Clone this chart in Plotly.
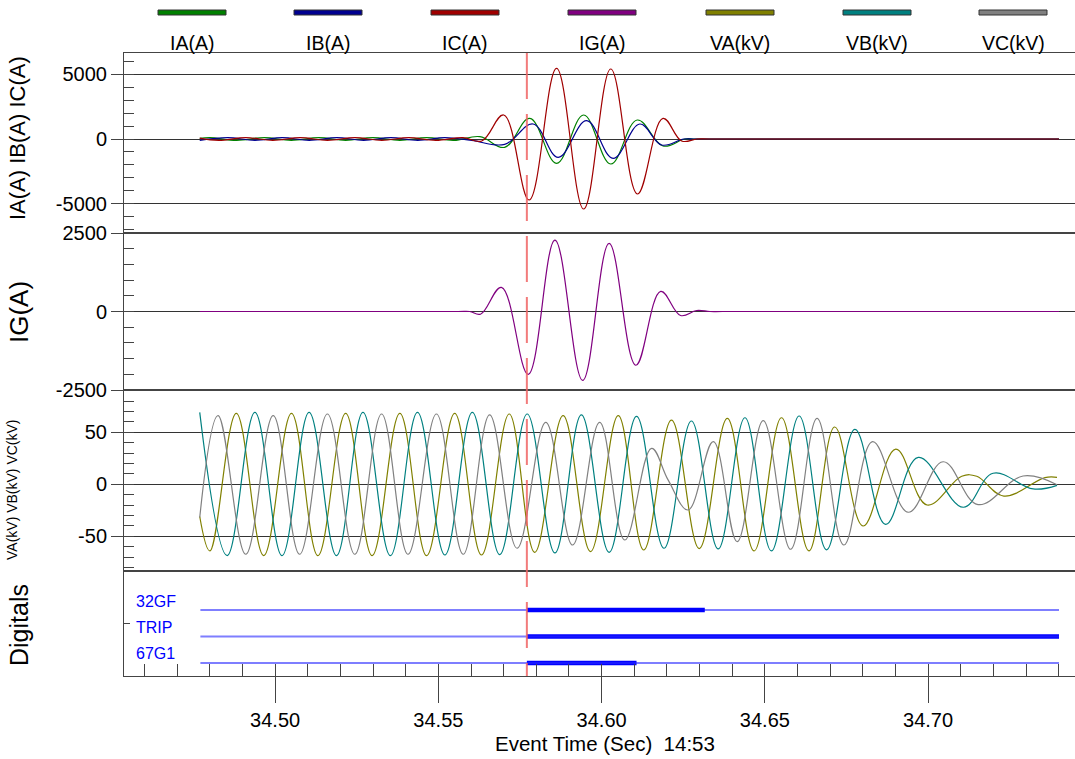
import plotly.graph_objects as go
from plotly.subplots import make_subplots

# ---------------- data ----------------
# Currents: extrema of each waveform (time in s, value in A)
ia_t = [34.4769, 34.4800, 34.4882, 34.4967, 34.5049, 34.5134, 34.5216, 34.5299, 34.5382, 34.5464,
        34.5547, 34.5627, 34.5703, 34.5780, 34.5862, 34.5945, 34.6028, 34.6109, 34.6188, 34.6255,
        34.6290, 34.7401]
ia_v = [45, 110, -110, 110, -110, 110, -110, 110, -110, 110,
        -110, 180, -644, 1597, -1880, 1855, -1932, 1468, -541, 0,
        0, 0]

ib_t = [34.4769, 34.4855, 34.4938, 34.5022, 34.5104, 34.5189, 34.5271, 34.5354, 34.5437, 34.5520,
        34.5602, 34.5703, 34.5790, 34.5867, 34.5954, 34.6035, 34.6117, 34.6184, 34.6252, 34.6290,
        34.7401]
ib_v = [-105, 110, -110, 110, -110, 110, -110, 110, -110, 110,
        -110, -412, 1159, -1417, 1417, -1494, 1159, -464, 0, 0,
        0]

ic_t = [34.4769, 34.4827, 34.4910, 34.4993, 34.5077, 34.5160, 34.5244, 34.5327, 34.5409, 34.5492,
        34.5575, 34.5633, 34.5700, 34.5778, 34.5862, 34.5945, 34.6028, 34.6110, 34.6188, 34.6245,
        34.6292, 34.6330, 34.7401]
ic_v = [64, -110, 110, -110, 110, -110, 110, -110, 110, -110,
        110, -150, 1855, -4714, 5461, -5410, 5410, -4250, 1597, -150,
        0, 0, 0]

ig_t = [34.4769, 34.5560, 34.5596, 34.5629, 34.5693, 34.5775, 34.5857, 34.5942, 34.6023, 34.6105,
        34.6181, 34.6242, 34.6291, 34.6332, 34.6370, 34.7401]
ig_v = [0, 0, 0, -86, 769, -2000, 2276, -2192, 2167, -1711,
        641, -128, 32, 0, 0, 0]

# Voltages: extrema of each waveform (time in s, value in kV)
va_t = [34.4769, 34.4800, 34.4881, 34.4965, 34.5050, 34.5131, 34.5216, 34.5297, 34.5382, 34.5464,
        34.5550, 34.5632, 34.5717, 34.5795, 34.5882, 34.5966, 34.6051, 34.6129, 34.6214, 34.6299,
        34.6385, 34.6467, 34.6551, 34.6635, 34.6714, 34.6801, 34.6901, 34.6997, 34.7103, 34.7149,
        34.7232, 34.7358, 34.7395]
va_v = [-31, -64.1, 68.3, -68.6, 68.3, -68.6, 68.3, -68.6, 68.3, -68.6,
        68.3, -68.0, 67.6, -65.4, 66.0, -64.7, 66.0, -63.2, 61.8, -61.8,
        63.4, -64.1, 64.0, -64.0, 55.1, -40.1, 33.9, -19.9, 7.7, 7.7,
        -11.3, 6.5, 6.7]

vb_t = [34.4769, 34.4853, 34.4938, 34.5021, 34.5104, 34.5188, 34.5269, 34.5353, 34.5436, 34.5520,
        34.5604, 34.5688, 34.5772, 34.5857, 34.5938, 34.6023, 34.6107, 34.6191, 34.6275, 34.6357,
        34.6439, 34.6520, 34.6605, 34.6689, 34.6776, 34.6870, 34.6970, 34.7108, 34.7199, 34.7322,
        34.7395]
vb_v = [69.2, -68.6, 69.2, -68.6, 69.2, -68.6, 69.2, -68.6, 69.2, -68.0,
        69.2, -67.6, 67.6, -66.0, 66.7, -65.4, 65.3, -61.5, 60.9, -62.2,
        64.0, -64.1, 65.7, -63.0, 52.9, -38.5, 25.9, -22.1, 10.6, -4.5,
        -1.0]

vc_t = [34.4769, 34.4825, 34.4910, 34.4994, 34.5075, 34.5160, 34.5244, 34.5326, 34.5407, 34.5494,
        34.5576, 34.5657, 34.5741, 34.5829, 34.5911, 34.5994, 34.6071, 34.6153, 34.6204, 34.6265,
        34.6342, 34.6415, 34.6495, 34.6579, 34.6660, 34.6742, 34.6830, 34.6939, 34.7046, 34.7153,
        34.7291, 34.7395]
vc_v = [-32, 66.0, -67.3, 66.0, -67.3, 67.6, -67.3, 67.6, -67.3, 67.6,
        -67.3, 66.7, -61.5, 59.6, -58.4, 59.6, -53.6, 34.6, 4.0, -24.7,
        41.0, -55.2, 61.2, -62.5, 63.4, -58.4, 41.0, -26.9, 21.7, -19.5,
        8.0, -0.5]

# Digital channels
dig_names = ["32GF", "TRIP", "67G1"]
dig_levels = [3, 2, 1]
dig_on = [34.5771, 34.5771, 34.5771]
dig_off = [34.6316, 34.7401, 34.6107]
record_start = 34.4771
record_end = 34.7401
trigger_time = 34.5771

# Axis tick labels
x_ticks = [34.50, 34.55, 34.60, 34.65, 34.70]
x_ticktext = ["34.50", "34.55", "34.60", "34.65", "34.70"]
i_ticks = [-5000, 0, 5000]
i_ticktext = ["-5000", "0", "5000"]
ig_ticks = [-2500, 0, 2500]
ig_ticktext = ["-2500", "0", "2500"]
v_ticks = [-50, 0, 50]
v_ticktext = ["-50", "0", "50"]

legend_names = ["IA(A)", "IB(A)", "IC(A)", "IG(A)", "VA(kV)", "VB(kV)", "VC(kV)"]
legend_colors = ["#008000", "#000090", "#a00000", "#800080", "#808000", "#008080", "#808080"]

# ---------------- figure ----------------
W, H = 1075, 759
ML, MR, MT, MB = 124, 0, 53, 83
PW, PH = W - ML - MR, H - MT - MB
FONT = "Liberation Sans, Arial, Helvetica, sans-serif"
AX = "#444444"


def px_x(px):
    return (px - ML) / PW


def px_y(py):
    return (H - MB - py) / PH


fig = make_subplots(rows=4, cols=1, shared_xaxes=True, vertical_spacing=0,
                    row_heights=[180, 157, 181, 105])

lw = 1.2
spl = dict(shape="spline", smoothing=1.1, width=lw)

fig.add_trace(go.Scatter(x=ia_t, y=ia_v, mode="lines", line=dict(color=legend_colors[0], **spl)), row=1, col=1)
fig.add_trace(go.Scatter(x=ib_t, y=ib_v, mode="lines", line=dict(color=legend_colors[1], **spl)), row=1, col=1)
fig.add_trace(go.Scatter(x=ic_t, y=ic_v, mode="lines", line=dict(color=legend_colors[2], **spl)), row=1, col=1)
fig.add_trace(go.Scatter(x=ig_t, y=ig_v, mode="lines", line=dict(color=legend_colors[3], **spl)), row=2, col=1)
fig.add_trace(go.Scatter(x=va_t, y=va_v, mode="lines", line=dict(color=legend_colors[4], **spl)), row=3, col=1)
fig.add_trace(go.Scatter(x=vb_t, y=vb_v, mode="lines", line=dict(color=legend_colors[5], **spl)), row=3, col=1)
fig.add_trace(go.Scatter(x=vc_t, y=vc_v, mode="lines", line=dict(color=legend_colors[6], **spl)), row=3, col=1)

for i, name in enumerate(dig_names):
    lvl = dig_levels[i]
    thin_col = "#0000ff" if i == 0 else "rgba(40,40,255,0.6)"
    thin_w = 1.2 if i == 0 else 2.2
    # full-record (inactive) line, drawn on the overlay axis that carries the 0.01 s ticks
    fig.add_trace(go.Scatter(x=[record_start, record_end], y=[lvl, lvl], mode="lines",
                             line=dict(color=thin_col, width=thin_w), xaxis="x5", yaxis="y4"))
    fig.add_trace(go.Scatter(x=[dig_on[i], dig_off[i]], y=[lvl, lvl], mode="lines",
                             line=dict(color="#0000ff", width=4.5)), row=4, col=1)
    fig.add_annotation(x=px_x(134), y=px_y([601, 627, 653][i]), xref="paper", yref="paper",
                       text=name, showarrow=False, xanchor="left", yanchor="middle",
                       font=dict(family=FONT, size=16, color="#0000ff"))

xr = [34.4537, 34.745]
for r in range(1, 5):
    fig.update_xaxes(range=xr, showline=True, linecolor=AX, linewidth=1, mirror=True,
                     showgrid=False, zeroline=False, row=r, col=1)
for r in range(1, 4):
    fig.update_xaxes(showticklabels=False, ticks="", row=r, col=1)
fig.update_xaxes(row=4, col=1, showticklabels=True, tickmode="array", tickvals=x_ticks,
                 ticktext=x_ticktext, ticks="outside", ticklen=26, tickcolor=AX, tickwidth=1,
                 tickfont=dict(family=FONT, size=20, color="#000"))

# overlay axis carrying the small inward ticks every 0.01 s (including at the labelled positions)
fig.update_layout(xaxis5=dict(overlaying="x4", anchor="y4", side="bottom", range=xr,
                              tickmode="linear", tick0=34.46, dtick=0.01, ticks="inside",
                              ticklen=12, tickcolor=AX, showticklabels=False, showgrid=False,
                              zeroline=False, showline=False))

yspecs = [
    (1, [-7264, 6646], i_ticks, i_ticktext, 1000),
    (2, [-2500, 2500], ig_ticks, ig_ticktext, 500),
    (3, [-83.4, 90.7], v_ticks, v_ticktext, 10),
]
for r, rng, tv, tt, mdt in yspecs:
    fig.update_yaxes(row=r, col=1, range=rng, tickmode="array", tickvals=tv, ticktext=tt,
                     ticks="outside", ticklen=12, tickcolor=AX, showline=True, linecolor=AX,
                     showgrid=True, gridcolor="#333333", gridwidth=1, zeroline=False,
                     tickfont=dict(family=FONT, size=20, color="#000"),
                     minor=dict(ticks="inside", ticklen=10, tickcolor=AX, tickmode="linear",
                                tick0=0, dtick=mdt, showgrid=False))
fig.update_yaxes(row=4, col=1, range=[0.51, 4.47], tickmode="array", tickvals=[2.5], ticktext=[""],
                 ticks="inside", ticklen=6, tickcolor=AX, showline=True, linecolor=AX,
                 showgrid=False, zeroline=False)

# trigger cursor
fig.add_shape(type="line", xref="x4", yref="paper", x0=trigger_time, x1=trigger_time, y0=1, y1=0,
              line=dict(color="rgba(240,100,100,0.85)", width=2, dash="46px,15px"))

# legend (custom, across the top)
leg_cx = [192, 328, 465, 602, 740, 877, 1013]
for name, col, cx in zip(legend_names, legend_colors, leg_cx):
    fig.add_shape(type="rect", xref="paper", yref="paper",
                  x0=px_x(cx - 34), x1=px_x(cx + 34), y0=px_y(15), y1=px_y(10),
                  fillcolor=col, line=dict(color="#333333", width=1))
    fig.add_annotation(x=px_x(cx), y=px_y(43), xref="paper", yref="paper", text=name,
                       showarrow=False, xanchor="center", yanchor="middle",
                       font=dict(family=FONT, size=19.5, color="#000"))

# axis titles
titles = [("IA(A) IB(A) IC(A)", 17, 138, 22), ("IG(A)", 19, 312, 26),
          ("VA(kV) VB(kV) VC(kV)", 12, 490, 14), ("Digitals", 19, 625, 25)]
for txt, cx, cy, sz in titles:
    fig.add_annotation(x=px_x(cx), y=px_y(cy), xref="paper", yref="paper", text=txt,
                       textangle=-90, showarrow=False, xanchor="center", yanchor="middle",
                       font=dict(family=FONT, size=sz, color="#000"))

fig.add_annotation(x=px_x(605), y=px_y(743), xref="paper", yref="paper",
                   text="Event Time (Sec)\u00a0 14:53", showarrow=False,
                   xanchor="center", yanchor="middle", font=dict(family=FONT, size=20.5, color="#000"))

fig.update_layout(width=W, height=H, margin=dict(l=ML, r=MR, t=MT, b=MB),
                  plot_bgcolor="white", paper_bgcolor="white", showlegend=False,
                  font=dict(family=FONT, color="#000"))

fig.write_html("out.html", config={"displayModeBar": False},
               post_script="document.body.style.margin='0px';document.body.style.overflow='hidden';")
